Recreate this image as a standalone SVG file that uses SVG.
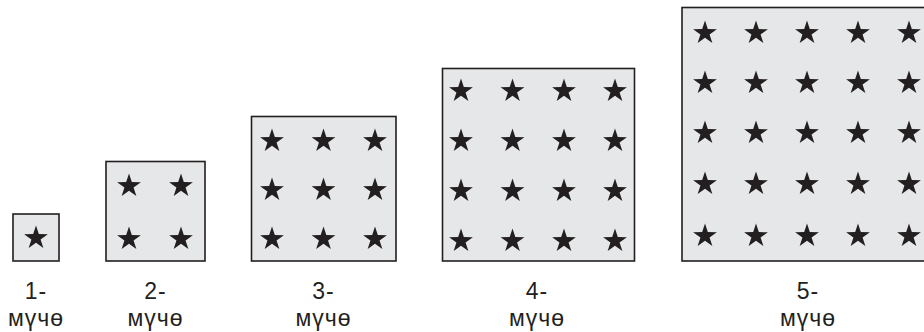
<svg xmlns="http://www.w3.org/2000/svg" xmlns:xlink="http://www.w3.org/1999/xlink" width="924" height="332" viewBox="0 0 924 332">
  <style>
    .box { fill: #e6e7e8; stroke: #231f20; stroke-width: 1.6; }
    .star { fill: #231f20; }
    .lbl { font-family: "Liberation Sans", "Noto Sans", sans-serif; font-size: 23px; letter-spacing: 1px; fill: #231f20; text-anchor: middle; }
  </style>
  <defs>
    <path id="star" class="star" d="M0,-12.5 L2.82,-3.88 L11.89,-3.86 L4.57,1.48 L7.35,10.11 L0,4.8 L-7.35,10.11 L-4.57,1.48 L-11.89,-3.86 L-2.82,-3.88Z"/>
  </defs>
  <rect width="924" height="332" fill="#ffffff"/>

  <g id="stage1">
    <rect class="box" x="13" y="214" width="46" height="47"/>
    <use href="#star" x="36" y="238"/>
    <text class="lbl" x="36" y="299">1-</text>
    <text class="lbl" x="36" y="326">мүчө</text>
  </g>

  <g id="stage2">
    <rect class="box" x="106" y="161.5" width="99" height="99.5"/>
    <use href="#star" x="129" y="186"/>
    <use href="#star" x="181" y="186"/>
    <use href="#star" x="129" y="239"/>
    <use href="#star" x="181" y="239"/>
    <text class="lbl" x="155.5" y="299">2-</text>
    <text class="lbl" x="155.5" y="326">мүчө</text>
  </g>

  <g id="stage3">
    <rect class="box" x="251.5" y="116.5" width="144.5" height="144.5"/>
    <use href="#star" x="272" y="141"/>
    <use href="#star" x="323.5" y="141"/>
    <use href="#star" x="375" y="141"/>
    <use href="#star" x="272" y="190"/>
    <use href="#star" x="323.5" y="190"/>
    <use href="#star" x="375" y="190"/>
    <use href="#star" x="272" y="239"/>
    <use href="#star" x="323.5" y="239"/>
    <use href="#star" x="375" y="239"/>
    <text class="lbl" x="323.5" y="299">3-</text>
    <text class="lbl" x="323.5" y="326">мүчө</text>
  </g>

  <g id="stage4">
    <rect class="box" x="442.5" y="68.5" width="192" height="192.5"/>
    <use href="#star" x="461" y="91"/>
    <use href="#star" x="512.5" y="91"/>
    <use href="#star" x="564" y="91"/>
    <use href="#star" x="615" y="91"/>
    <use href="#star" x="461" y="141"/>
    <use href="#star" x="512.5" y="141"/>
    <use href="#star" x="564" y="141"/>
    <use href="#star" x="615" y="141"/>
    <use href="#star" x="461" y="191"/>
    <use href="#star" x="512.5" y="191"/>
    <use href="#star" x="564" y="191"/>
    <use href="#star" x="615" y="191"/>
    <use href="#star" x="461" y="241"/>
    <use href="#star" x="512.5" y="241"/>
    <use href="#star" x="564" y="241"/>
    <use href="#star" x="615" y="241"/>
    <text class="lbl" x="537" y="299">4-</text>
    <text class="lbl" x="537" y="326">мүчө</text>
  </g>

  <g id="stage5">
    <rect class="box" x="682" y="7.5" width="260" height="253.5"/>
    <use href="#star" x="705" y="33"/>
    <use href="#star" x="756" y="33"/>
    <use href="#star" x="807" y="33"/>
    <use href="#star" x="858" y="33"/>
    <use href="#star" x="909" y="33"/>
    <use href="#star" x="705" y="83"/>
    <use href="#star" x="756" y="83"/>
    <use href="#star" x="807" y="83"/>
    <use href="#star" x="858" y="83"/>
    <use href="#star" x="909" y="83"/>
    <use href="#star" x="705" y="133"/>
    <use href="#star" x="756" y="133"/>
    <use href="#star" x="807" y="133"/>
    <use href="#star" x="858" y="133"/>
    <use href="#star" x="909" y="133"/>
    <use href="#star" x="705" y="184"/>
    <use href="#star" x="756" y="184"/>
    <use href="#star" x="807" y="184"/>
    <use href="#star" x="858" y="184"/>
    <use href="#star" x="909" y="184"/>
    <use href="#star" x="705" y="236"/>
    <use href="#star" x="756" y="236"/>
    <use href="#star" x="807" y="236"/>
    <use href="#star" x="858" y="236"/>
    <use href="#star" x="909" y="236"/>
    <text class="lbl" x="808" y="299">5-</text>
    <text class="lbl" x="808" y="326">мүчө</text>
  </g>

  <g id="connectors"/>
</svg>
